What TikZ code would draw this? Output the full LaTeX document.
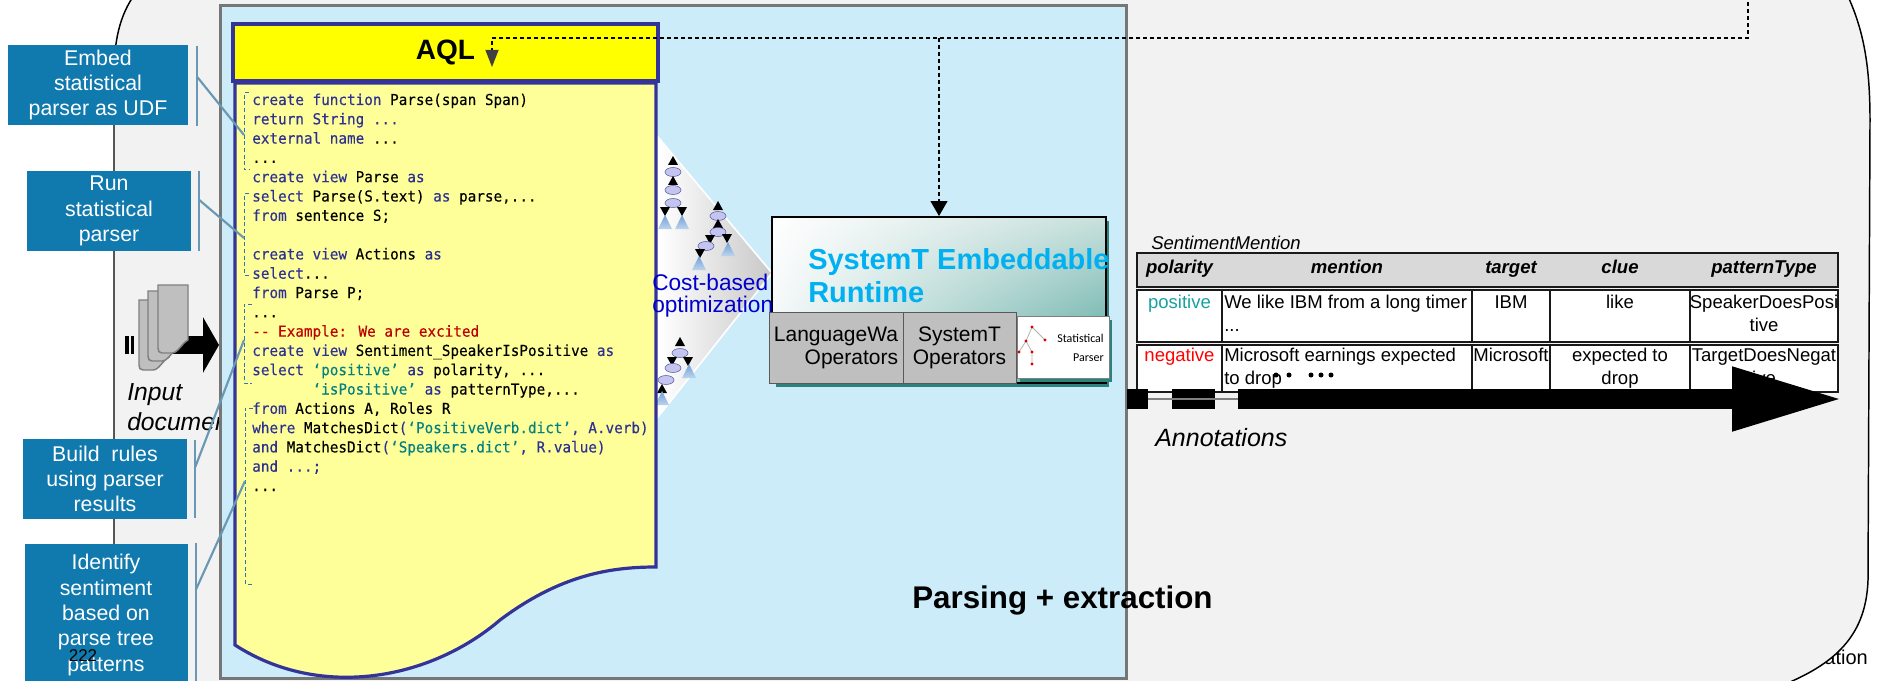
\documentclass[tikz,border=0pt]{standalone}
\usepackage{fontspec}
\setmainfont{Liberation Sans}
\newfontfamily\codefont[FakeStretch=0.95,FakeBold=0.25]{DejaVu Sans Mono}
\newfontfamily\parserfont{Carlito}
\usetikzlibrary{arrows.meta,calc,shapes.geometric,shadings}

\definecolor{bggray}{RGB}{242,242,242}
\definecolor{panelblue}{RGB}{204,236,249}
\definecolor{panelrim}{RGB}{118,118,118}
\definecolor{navy}{RGB}{51,51,153}
\definecolor{aqlyellow}{RGB}{255,255,0}
\definecolor{docyellow}{RGB}{255,255,153}
\definecolor{kwblue}{RGB}{46,49,146}
\definecolor{strteal}{RGB}{0,128,128}
\definecolor{cmred}{RGB}{192,0,0}
\definecolor{callout}{RGB}{16,121,173}
\definecolor{leadblue}{RGB}{104,152,180}
\definecolor{bracketblue}{RGB}{46,117,182}
\definecolor{runcyan}{RGB}{0,176,240}
\definecolor{runteal}{RGB}{80,164,156}
\definecolor{runtealdark}{RGB}{46,130,124}
\definecolor{runmist}{RGB}{200,224,220}
\definecolor{runpale}{RGB}{238,245,244}
\definecolor{opgray}{RGB}{191,191,191}
\definecolor{oprim}{RGB}{89,89,89}
\definecolor{costblue}{RGB}{0,0,204}
\definecolor{lavender}{RGB}{196,196,240}
\definecolor{lavrim}{RGB}{90,90,160}
\definecolor{leafblue}{RGB}{110,160,215}
\definecolor{posteal}{RGB}{26,160,160}
\definecolor{hdrgray}{RGB}{217,217,217}
\definecolor{pagegray}{RGB}{191,191,191}
\definecolor{pagerim}{RGB}{127,127,127}
\definecolor{tipgray}{RGB}{64,64,64}
\definecolor{funnelgray}{RGB}{200,200,200}

% AQL syntax colouring
\newcommand\kwd[1]{\textcolor{kwblue}{#1}}
\newcommand\strg[1]{\textcolor{strteal}{#1}}
\newcommand\cmnt[1]{\textcolor{cmred}{#1}}

% small plan-tree glyphs
\newcommand\upTri[2]{\fill (#1-5,#2+4) -- (#1,#2-5) -- (#1+5,#2+4) -- cycle;}
\newcommand\downTri[2]{\fill (#1-5,#2-4) -- (#1+5,#2-4) -- (#1,#2+5) -- cycle;}
\newcommand\leafTri[2]{\shade[top color=leafblue, bottom color=white!55!leafblue] (#1-7,#2+7) -- (#1,#2-7) -- (#1+7,#2+7) -- cycle;}
\newcommand\bubble[2]{\filldraw[fill=lavender, draw=lavrim, line width=0.4pt] (#1,#2) ellipse [x radius=8, y radius=4.5];}
% one input page with a curled lower corner
\newcommand\docpage[3]{\path[fill=pagegray, draw=pagerim, line width=1.1pt]
  (#1,#2) -- (#1+30,#2) -- (#1+30,#3-13) .. controls (#1+24,#3-10) and (#1+20,#3) .. (#1+14,#3)
  -- (#1+4,#3) .. controls (#1+1,#3) and (#1,#3-2) .. (#1,#3-5) -- cycle;}

\begin{document}
\begin{tikzpicture}[x=0.75pt,y=-0.75pt,
  callbox/.style={fill=callout, text=white, align=center, inner sep=0pt, font=\fontsize{16}{19}\selectfont},
  lead/.style={draw=leadblue, line width=1.6pt},
  bracket/.style={draw=bracketblue, line width=0.75pt, dash pattern=on 3pt off 2pt},
  codeline/.style={anchor=base west, inner sep=0pt, font=\codefont\fontsize{11.3}{14.5}\selectfont},
  dashline/.style={draw=black, line width=0.9pt, dash pattern=on 3pt off 2.25pt},
  opbox/.style={draw=oprim, fill=opgray, line width=0.75pt, inner sep=0pt, minimum height=53.25pt,
                font=\fontsize{15.75}{17.25}\selectfont},
  tablerule/.style={draw=black!90, line width=1.5pt},
  hdr/.style={anchor=base, inner sep=0pt, font=\fontsize{13.9}{16}\selectfont\bfseries\itshape},
  cell/.style={anchor=base, inner sep=0pt, font=\fontsize{13.9}{16}\selectfont},
  cellleft/.style={cell, anchor=base west},
]
\useasboundingbox (0,0) rectangle (1877,681);
\clip (0,0) rectangle (1877,681);
\fill[white] (0,0) rectangle (1877,681);

% caption fragment peeking out at the lower right
\node[anchor=base east, inner sep=0pt, font=\fontsize{15}{18}\selectfont] (tail) at (1868,664) {ation};

% rounded grey frame
\path[fill=bggray, draw=black, line width=1.1pt]
  (138,-10) .. controls (122,10) and (114,35) .. (114,75)
  -- (114,600) .. controls (114,650) and (150,678) .. (200,690)
  -- (1770,690) .. controls (1830,668) and (1866,640) .. (1868,580)
  -- (1870,120) .. controls (1870,60) and (1862,25) .. (1845,-10) -- cycle;

% input documents
\fill (125,336) rectangle (129,354);
\fill (131,336) rectangle (134,354);
\coordinate (inA) at (141,345);
\coordinate (inB) at (219,345);
\draw[line width=13.5pt, -{Triangle[length=12pt,width=41.25pt]}] (inA) -- (inB);
\docpage{139}{300}{370}
\docpage{148}{291}{361}
\docpage{158}{285}{353}
\node[anchor=west, inner sep=0pt, align=left, font=\fontsize{18.5}{22.5}\selectfont\itshape] (inlabel) at (127,407) {Input\\documents};

% light blue extraction panel
\node[draw=panelrim, fill=panelblue, line width=2.25pt, inner sep=0pt,
      minimum width=679.5pt, minimum height=504pt] (panel) at (673,342) {};

% cost-based optimisation funnel
\shadedraw[left color=white, right color=funnelgray, draw=white, line width=1.2pt]
  (658,137) -- (772,273) -- (658,417) -- cycle;
\upTri{673}{161} \bubble{673}{172} \upTri{673}{181} \bubble{673}{190} \bubble{673}{203}
\downTri{665}{211} \downTri{682}{211} \leafTri{665}{222} \leafTri{682}{222}
\upTri{718}{206} \bubble{718}{216} \upTri{718}{224} \bubble{718}{232}
\downTri{710}{239} \downTri{727}{238} \leafTri{728}{249} \bubble{706}{246}
\downTri{700}{253} \leafTri{699}{263}
\upTri{680}{342} \bubble{680}{353} \downTri{672}{361} \downTri{688}{361}
\leafTri{689}{371} \bubble{673}{368} \bubble{666}{380} \upTri{662}{389} \leafTri{662}{398}

% SystemT runtime
\fill[runtealdark] (776,221) rectangle (1109,387);
\node[draw=black, line width=1.5pt, shade, upper left=white, upper right=runmist,
      lower left=runpale, lower right=runteal, inner sep=0pt,
      minimum width=250.5pt, minimum height=124.5pt] (runtime) at (939,300) {};
\node[anchor=west, inner sep=0pt, align=left, text=runcyan,
      font=\fontsize{21.75}{24.75}\selectfont\bfseries] (rttitle) at (808,276) {SystemT Embeddable\\Runtime};
\node[opbox, minimum width=100.5pt, align=right] (lwops) at (836,347.5) {LanguageWa\\Operators};
\node[opbox, minimum width=84.75pt, align=center] (stops) at (959.5,347.5) {SystemT\\Operators};
\fill[runtealdark] (1020,320) rectangle (1112,382);
\node[draw=pagerim, fill=white, line width=0.5pt, inner sep=0pt,
      minimum width=69pt, minimum height=46.5pt] (parser) at (1063,347) {};
\draw[gray!60, line width=0.6pt] (1032,327) -- (1026,341) -- (1019,352);
\draw[gray!60, line width=0.6pt] (1032,327) -- (1045,340);
\draw[gray!60, line width=0.6pt] (1026,341) -- (1032,352) -- (1032,364);
\foreach \tx/\ty in {1032/327,1026/341,1045/340,1019/352,1032/352,1032/364}
  \fill[red!85!black] (\tx,\ty) circle (1.6);
\node[anchor=east, inner sep=0pt, align=right, font=\parserfont\fontsize{9}{14}\selectfont] (parsertext) at (1104,348) {Statistical\\Parser};

% AQL document
\path[fill=docyellow, draw=navy, line width=2.4pt]
  (235,83) -- (656,83) -- (656,567)
  .. controls (610,567) and (560,575) .. (500,620)
  .. controls (430,680) and (320,700) .. (235,645) -- cycle;
\node[fill=aqlyellow, draw=navy, line width=2.6pt, inner sep=0pt,
      minimum width=318.75pt, minimum height=42.75pt,
      font=\fontsize{21}{24}\selectfont\bfseries] (aql) at (445.5,52.5) {AQL};

\node[anchor=west, inner sep=0pt, align=left, text=costblue, font=\fontsize{17}{16.5}\selectfont] (cost) at (652,296) {Cost-based\\optimization};

\node[codeline] (l1) at (252,105) {\kwd{create function} Parse(span Span)};
\node[codeline] (l2) at (252,124.3) {\kwd{return String ...}};
\node[codeline] (l3) at (252,143.6) {\kwd{external name} ...};
\node[codeline] (l4) at (252,162.9) {...};
\node[codeline] (l5) at (252,182.2) {\kwd{create view} Parse \kwd{as}};
\node[codeline] (l6) at (252,201.5) {\kwd{select} Parse(S.text) \kwd{as} parse,...};
\node[codeline] (l7) at (252,220.8) {\kwd{from} sentence S;};
\node[codeline] (l9) at (252,259.4) {\kwd{create view} Actions \kwd{as}};
\node[codeline] (l10) at (252,278.7) {\kwd{select}...};
\node[codeline] (l11) at (252,298) {\kwd{from} Parse P;};
\node[codeline] (l12) at (252,317.3) {...};
\node[codeline] (l13) at (252,336.6) {\cmnt{\mbox{-}\mbox{-} Example: We are excited}};
\node[codeline] (l14) at (252,355.9) {\kwd{create view} Sentiment\_SpeakerIsPositive \kwd{as}};
\node[codeline] (l15) at (252,375.2) {\kwd{select} \strg{‘positive’} \kwd{as} polarity, ...};
\node[codeline] (l16) at (252,394.5) {\phantom{0000000}\strg{‘isPositive’} \kwd{as} patternType,...};
\node[codeline] (l17) at (252,413.8) {\kwd{from} Actions A, Roles R};
\node[codeline] (l18) at (252,433.1) {\kwd{where} MatchesDict\kwd{(}\strg{‘PositiveVerb.dict’}\kwd{, A.verb)}};
\node[codeline] (l19) at (252,452.4) {\kwd{and} MatchesDict\kwd{(}\strg{‘Speakers.dict’}\kwd{, R.value)}};
\node[codeline] (l20) at (252,471.7) {\kwd{and ...;}};
\node[codeline] (l21) at (252,491) {...};

% brackets grouping the statements
\draw[bracket] (249,93) -- (244,93) -- (244,170) -- (249,170);
\draw[bracket] (249,194) -- (244,194) -- (244,275) -- (249,275);
\draw[bracket] (252,304) -- (244,304) -- (244,383) -- (252,383);
\draw[bracket] (253,408) -- (245,408) -- (245,584) -- (252,584);
\coordinate (hitA) at (244,135);
\coordinate (hitB) at (244,238);
\coordinate (hitC) at (244,340);
\coordinate (hitD) at (245,481);

% compiled plan handed to the runtime
\coordinate (feed) at (1748,-5);
\coordinate (bend) at (1748,38);
\coordinate (aqltip) at (492,67);
\draw[dashline, -{Triangle[length=12.75pt,width=9.75pt,color=tipgray]}] (feed) -- (bend) -| (aqltip);
\draw[dashline, -{Triangle[length=11.25pt,width=12.75pt]}] (runtime.north |- bend) -- (runtime.north);

\node[anchor=west, inner sep=0pt, font=\fontsize{23.5}{26}\selectfont\bfseries] (pe) at (912,600) {Parsing + extraction};

% SentimentMention output table
\node[anchor=west, inner sep=0pt, font=\fontsize{13.9}{16}\selectfont\itshape] (tname) at (1151,243) {SentimentMention};
\draw[tablerule, fill=hdrgray] (1137,253) rectangle (1838,287);
\draw[tablerule, fill=white] (1137,290) rectangle (1838,342);
\draw[tablerule, fill=white] (1137,345) rectangle (1838,392);
\foreach \cx in {1222,1472,1550,1690} {
  \draw[tablerule] (\cx,290) -- (\cx,342);
  \draw[tablerule] (\cx,345) -- (\cx,392);
}
\node[hdr] (hpol) at (1179.5,273.5) {polarity};
\node[hdr] (hmen) at (1347,273.5) {mention};
\node[hdr] (htar) at (1511,273.5) {target};
\node[hdr] (hclu) at (1620,273.5) {clue};
\node[hdr] (hpat) at (1764,273.5) {patternType};
\node[cell, text=posteal] (r1pol) at (1179.5,308.5) {positive};
\node[cellleft] (r1men) at (1224,308.5) {We like IBM from a long timer};
\node[cellleft] (r1men2) at (1224,331) {...};
\node[cell] (r1tar) at (1511,308.5) {IBM};
\node[cell] (r1clu) at (1620,308.5) {like};
\node[cell] (r1pat) at (1764,308.5) {SpeakerDoesPosi};
\node[cell] (r1pat2) at (1764,331) {tive};
\node[cell, text=red] (r2pol) at (1179.5,361.5) {negative};
\node[cellleft] (r2men) at (1224,361.5) {Microsoft earnings expected};
\node[cellleft] (r2men2) at (1224,384.5) {to drop};
\node[cell] (r2tar) at (1511,361.5) {Microsoft};
\node[cell] (r2clu) at (1620,361.5) {expected to};
\node[cell] (r2clu2) at (1620,384.5) {drop};
\node[cell] (r2pat) at (1764,361.5) {TargetDoesNegat};
\node[cell] (r2pat2) at (1764,384.5) {ive};
\foreach \dx in {1276,1289,1311,1321,1331} \fill (\dx,375) circle (2.5);

% annotation stream
\fill (1127,389) rectangle (1148,409);
\fill (1172,389) rectangle (1215,409);
\draw[gray, line width=1.1pt] (1148,399) -- (1238,399);
\coordinate (annA) at (1238,399);
\coordinate (annB) at (1844,399);
\draw[line width=15pt, -{Triangle[length=84pt,width=44.25pt]}] (annA) -- (annB);
\node[anchor=west, inner sep=0pt, font=\fontsize{18.75}{22}\selectfont\itshape] (annlabel) at (1155,438) {Annotations};

% callouts
\node[callbox, minimum width=135pt, minimum height=60pt] (c1) at (98,85) {Embed\\statistical\\parser as UDF};
\node[callbox, minimum width=123pt, minimum height=60pt] (c2) at (109,211) {Run\\statistical\\parser};
\node[callbox, minimum width=123pt, minimum height=60pt] (c3) at (105,479) {Build\ \ rules\\using parser\\results};
\node[callbox, minimum width=122.25pt, minimum height=106.5pt] (c4) at (106,615) {Identify\\sentiment\\based on\\parse tree\\patterns};
\draw[lead] ($(c1.north east)+(9,1)$) -- ($(c1.south east)+(9,1)$);
\draw[lead] ($(c1.east)+(9,-8)$) -- (hitA);
\draw[lead] ($(c2.north east)+(8,0)$) -- ($(c2.south east)+(8,0)$);
\draw[lead] ($(c2.east)+(8,-11)$) -- (hitB);
\draw[lead] ($(c3.north east)+(8,1)$) -- ($(c3.south east)+(8,-1)$);
\draw[lead] ($(c3.east)+(8,-12)$) -- (hitC);
\draw[lead] ($(c4.north east)+(8,-1)$) -- ($(c4.south east)+(8,0)$);
\draw[lead] ($(c4.east)+(8,-25)$) -- (hitD);

\node[inner sep=0pt, font=\fontsize{12.75}{15}\selectfont] (pageno) at (83,656) {222};
\end{tikzpicture}
\end{document}
